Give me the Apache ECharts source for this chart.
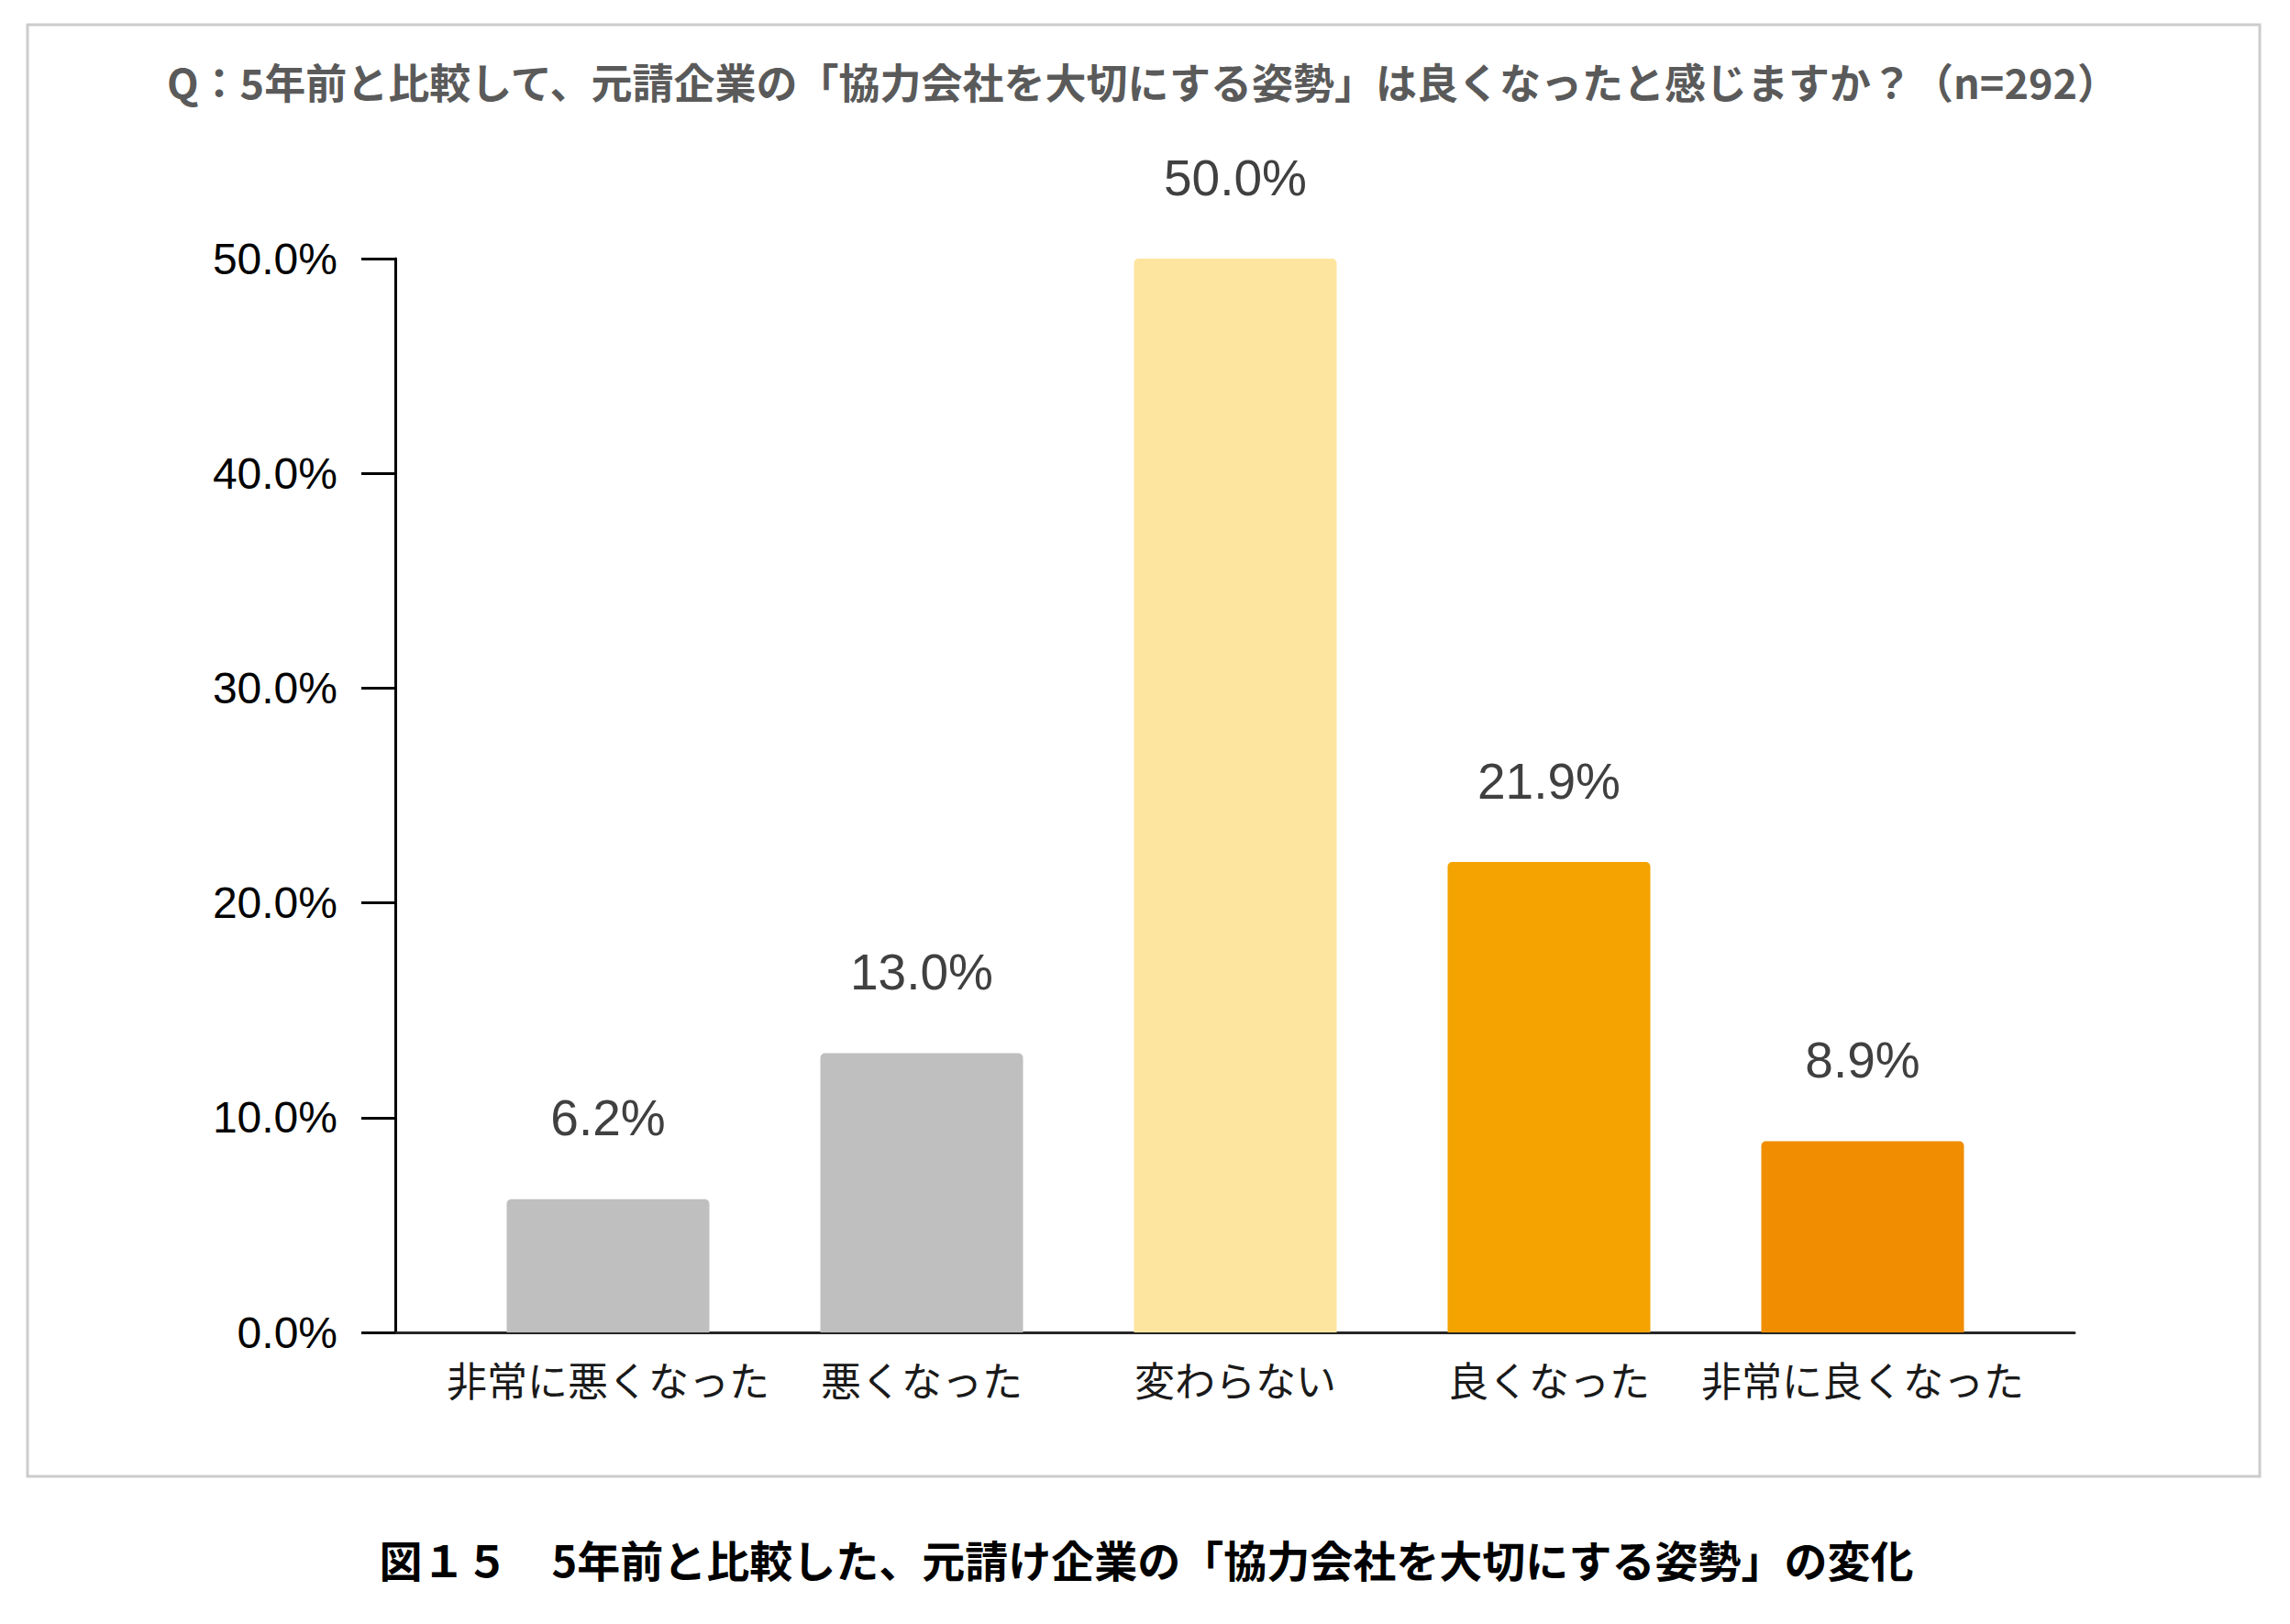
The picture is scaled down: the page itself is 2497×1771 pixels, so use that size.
<!DOCTYPE html>
<html>
<head>
<meta charset="utf-8">
<script src="https://cdn.jsdelivr.net/npm/echarts@6/dist/echarts.min.js"></script>
<style>
html,body{margin:0;padding:0;background:#fff;}
#chart{width:2497px;height:1771px;}
</style>
</head>
<body>
<div id="chart"></div>
<script>
const titleText = 'Q：5年前と比較して、元請企業の「協力会社を大切にする姿勢」は良くなったと感じますか？（n=292）';
const captionText = '図１５　5年前と比較した、元請け企業の「協力会社を大切にする姿勢」の変化';
const categories = ['非常に悪くなった', '悪くなった', '変わらない', '良くなった', '非常に良くなった'];
const values = [6.2, 13.0, 50.0, 21.9, 8.9];
const barColors = ['#BFBFBF', '#BFBFBF', '#FEE59F', '#F4A300', '#F08D00'];
const yMin = 0, yMax = 50, yStep = 10;

const latin = '"Liberation Sans", Arial, "Noto Sans CJK JP", sans-serif';
const cjk = '"Noto Sans CJK JP", "Liberation Sans", sans-serif';

const chart = echarts.init(document.getElementById('chart'), null, {renderer: 'svg'});

const option = {
  backgroundColor: '#ffffff',
  animation: false,
  title: [
    {
      text: titleText,
      left: 1246,
      top: 66,
      textAlign: 'center',
      padding: 0,
      textStyle: {fontFamily: cjk, fontSize: 45, fontWeight: 'bold', color: '#5a5a5a'}
    },
    {
      text: captionText,
      left: 1250,
      top: 1676,
      textAlign: 'center',
      padding: 0,
      textStyle: {fontFamily: cjk, fontSize: 47, fontWeight: 'bold', color: '#000000'}
    }
  ],
  graphic: [
    {
      type: 'rect',
      silent: true,
      z: -10,
      shape: {x: 30, y: 27, width: 2434, height: 1583},
      style: {fill: 'none', stroke: '#CCCCCC', lineWidth: 3}
    }
  ],
  grid: [
    {left: 492, top: 282, width: 1710, height: 1171, containLabel: false},
    {left: 431, top: 282, width: 1831, height: 1171, containLabel: false}
  ],
  xAxis: [
    {
      type: 'category',
      gridIndex: 0,
      data: categories,
      axisLine: {show: false},
      axisTick: {show: false},
      axisLabel: {interval: 0, margin: 29, fontFamily: cjk, fontSize: 44, color: '#1a1a1a'}
    },
    {
      type: 'value',
      gridIndex: 1,
      min: 0,
      max: 1,
      axisLine: {show: true, lineStyle: {color: '#262626', width: 3}},
      axisTick: {show: false},
      axisLabel: {show: false},
      splitLine: {show: false}
    }
  ],
  yAxis: [
    {
      type: 'value',
      gridIndex: 0,
      min: yMin,
      max: yMax,
      interval: yStep,
      show: false,
      splitLine: {show: false}
    },
    {
      type: 'value',
      gridIndex: 1,
      min: yMin,
      max: yMax,
      interval: yStep,
      axisLine: {show: true, lineStyle: {color: '#000000', width: 3}},
      axisTick: {show: true, length: 37, inside: false, lineStyle: {color: '#000000', width: 3}},
      axisLabel: {
        margin: 63,
        fontFamily: latin,
        fontSize: 48,
        color: '#000000',
        formatter: v => v.toFixed(1) + '%'
      },
      splitLine: {show: false}
    }
  ],
  series: [
    {
      type: 'bar',
      xAxisIndex: 0,
      yAxisIndex: 0,
      barWidth: 221,
      data: values.map((v, i) => ({value: v, itemStyle: {color: barColors[i]}})),
      itemStyle: {borderRadius: [5, 5, 0, 0]},
      label: {
        show: true,
        position: 'top',
        distance: 61,
        fontFamily: latin,
        fontSize: 55,
        color: '#404040',
        formatter: p => p.value.toFixed(1) + '%'
      }
    }
  ]
};

chart.setOption(option);
</script>
</body>
</html>
